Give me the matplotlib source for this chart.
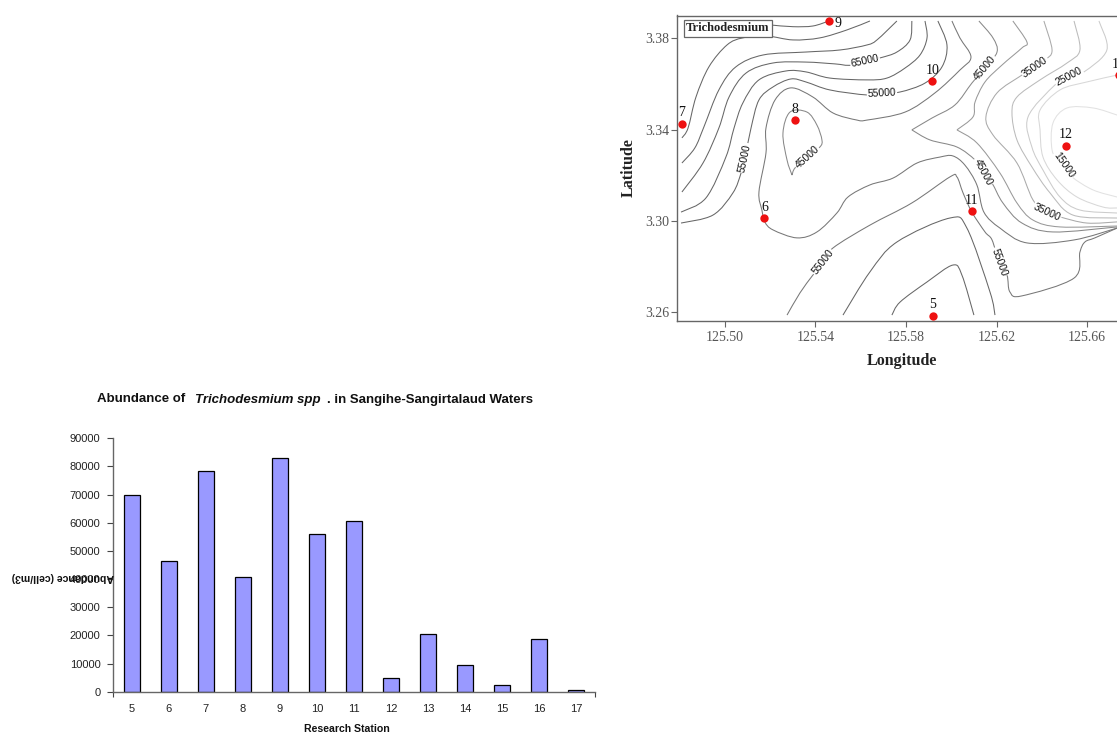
from matplotlib import pyplot as plt
from matplotlib.path import Path
from matplotlib.patches import PathPatch
import numpy as np

stations = ["5", "6", "7", "8", "9", "10", "11", "12", "13", "14", "15", "16", "17"]
abundance = [69750, 46540, 78280, 40620, 83130, 55900, 60750, 4970, 20370, 9470, 2490, 18830, 590]

# sampling stations on the map
st_names = ["5", "6", "7", "8", "9", "10", "11", "12", "13"]
st_lon = [125.5919, 125.5175, 125.4810, 125.5310, 125.5461, 125.5916, 125.6091, 125.6506, 125.6740]
st_lat = [3.2586, 3.3011, 3.3425, 3.3442, 3.3876, 3.3613, 3.3043, 3.3329, 3.3639]

# contour lines
lon_80 = [125.5208, 125.5301, 125.5389, 125.5460]
lat_80 = [3.3858, 3.3851, 3.3854, 3.3876]
lon_75 = [125.4811, 125.4838, 125.4873, 125.4930, 125.5010, 125.5080, 125.5186, 125.5301, 125.5420, 125.5540, 125.5641]
lat_75 = [3.3364, 3.3407, 3.3543, 3.3675, 3.3771, 3.3802, 3.3810, 3.3793, 3.3802, 3.3837, 3.3876]
lon_70 = [125.4811, 125.4868, 125.4908, 125.4974, 125.5049, 125.5169, 125.5358, 125.5509, 125.5628, 125.5672, 125.5760]
lat_70 = [3.3254, 3.3320, 3.3412, 3.3574, 3.3675, 3.3727, 3.3740, 3.3749, 3.3771, 3.3793, 3.3876]
lon_65 = [125.4811, 125.4904, 125.4974, 125.5019, 125.5094, 125.5213, 125.5358, 125.5487, 125.5562, 125.5685, 125.5760, 125.5818, 125.5826]
lat_65 = [3.3127, 3.3254, 3.3407, 3.3543, 3.3648, 3.3692, 3.3696, 3.3688, 3.3683, 3.3714, 3.3740, 3.3793, 3.3876]
lon_60 = [125.4807, 125.4917, 125.5005, 125.5041, 125.5080, 125.5151, 125.5270, 125.5358, 125.5464, 125.5628, 125.5716, 125.5796, 125.5862, 125.5893, 125.5884]
lat_60 = [3.3039, 3.3101, 3.3280, 3.3407, 3.3517, 3.3618, 3.3657, 3.3653, 3.3626, 3.3618, 3.3626, 3.3670, 3.3727, 3.3802, 3.3876]
lon_55 = [125.4807, 125.4948, 125.5036, 125.5072, 125.5089, 125.5116, 125.5151, 125.5213, 125.5292, 125.5358, 125.5464, 125.5628, 125.5694, 125.5774, 125.5884, 125.5959, 125.5981, 125.5941]
lat_55 = [3.2991, 3.3026, 3.3123, 3.3210, 3.3276, 3.3407, 3.3530, 3.3587, 3.3622, 3.3609, 3.3574, 3.3552, 3.3561, 3.3565, 3.3604, 3.3675, 3.3771, 3.3876]
lon_50 = [125.6003, 125.6038, 125.6087, 125.6038, 125.5928, 125.5796, 125.5628, 125.5584, 125.5478, 125.5389, 125.5292, 125.5222, 125.5182, 125.5182, 125.5151, 125.5164, 125.5177, 125.5213, 125.5319, 125.5407, 125.5495, 125.5544, 125.5641, 125.5743, 125.5849, 125.5950, 125.6007, 125.6060, 125.6113, 125.6144, 125.6215, 125.6334, 125.6542, 125.6732]
lat_50 = [3.3876, 3.3802, 3.3718, 3.3661, 3.3561, 3.3477, 3.3442, 3.3442, 3.3473, 3.3543, 3.3583, 3.3530, 3.3407, 3.3298, 3.3127, 3.3048, 3.2996, 3.2961, 3.2926, 3.2952, 3.3035, 3.3105, 3.3158, 3.3188, 3.3254, 3.3280, 3.3285, 3.3245, 3.3158, 3.3039, 3.2969, 3.2904, 3.2917, 3.2969]
lon_45_loop = [125.5297, 125.5275, 125.5257, 125.5288, 125.5363, 125.5407, 125.5429, 125.5420, 125.5363, 125.5310, 125.5297]
lat_45_loop = [3.3201, 3.3267, 3.3385, 3.3477, 3.3477, 3.3420, 3.3355, 3.3324, 3.3280, 3.3232, 3.3201]
lon_45_a = [125.6122, 125.6184, 125.6202, 125.6149, 125.6091, 125.6016, 125.5915, 125.5826]
lat_45_a = [3.3876, 3.3802, 3.3740, 3.3670, 3.3604, 3.3508, 3.3451, 3.3399]
lon_45_b = [125.5826, 125.5906, 125.6025, 125.6105, 125.6140, 125.6180, 125.6228, 125.6312, 125.6449, 125.6732]
lat_45_b = [3.3399, 3.3355, 3.3324, 3.3267, 3.3215, 3.3166, 3.3079, 3.2991, 3.2952, 3.2974]
lon_40_a = [125.6272, 125.6334, 125.6312, 125.6224, 125.6149, 125.6105, 125.6096, 125.6025]
lat_40_a = [3.3876, 3.3784, 3.3758, 3.3683, 3.3609, 3.3521, 3.3456, 3.3399]
lon_40_b = [125.6025, 125.6113, 125.6215, 125.6290, 125.6361, 125.6480, 125.6732]
lat_40_b = [3.3399, 3.3342, 3.3210, 3.3079, 3.3004, 3.2974, 3.2978]
lon_35 = [125.6409, 125.6445, 125.6414, 125.6370, 125.6312, 125.6202, 125.6153, 125.6184, 125.6290, 125.6361, 125.6423, 125.6480, 125.6599, 125.6732]
lat_35 = [3.3876, 3.3749, 3.3705, 3.3675, 3.3639, 3.3561, 3.3456, 3.3377, 3.3254, 3.3092, 3.3039, 3.3018, 3.2991, 3.2996]
lon_30 = [125.6542, 125.6568, 125.6511, 125.6392, 125.6290, 125.6268, 125.6290, 125.6356, 125.6436, 125.6537, 125.6732]
lat_30 = [3.3876, 3.3749, 3.3692, 3.3618, 3.3543, 3.3473, 3.3355, 3.3237, 3.3123, 3.3026, 3.3013]
lon_25 = [125.6652, 125.6687, 125.6586, 125.6520, 125.6458, 125.6339, 125.6356, 125.6405, 125.6480, 125.6568, 125.6732]
lat_25 = [3.3876, 3.3749, 3.3653, 3.3631, 3.3596, 3.3456, 3.3324, 3.3223, 3.3105, 3.3048, 3.3035]
lon_20 = [125.6732, 125.6599, 125.6480, 125.6392, 125.6392, 125.6405, 125.6467, 125.6555, 125.6670, 125.6732]
lat_20 = [3.3639, 3.3609, 3.3574, 3.3486, 3.3399, 3.3280, 3.3180, 3.3105, 3.3061, 3.3057]
lon_15 = [125.6732, 125.6626, 125.6511, 125.6449, 125.6445, 125.6480, 125.6533, 125.6626, 125.6732]
lat_15 = [3.3464, 3.3495, 3.3495, 3.3429, 3.3311, 3.3254, 3.3193, 3.3136, 3.3105]
lon_55_low = [125.5275, 125.5332, 125.5389, 125.5433, 125.5478, 125.5641, 125.5826, 125.5994, 125.6025, 125.6052, 125.6091, 125.6149, 125.6180, 125.6211, 125.6246, 125.6259, 125.6312, 125.6542, 125.6568, 125.6590, 125.6634, 125.6732]
lat_55_low = [3.2588, 3.2685, 3.2763, 3.2820, 3.2882, 3.2982, 3.3079, 3.3193, 3.3193, 3.3123, 3.3039, 3.2952, 3.2917, 3.2820, 3.2763, 3.2689, 3.2672, 3.2750, 3.2864, 3.2908, 3.2926, 3.2969]
lon_60_low = [125.5522, 125.5641, 125.5760, 125.5994, 125.6069, 125.6171, 125.6193]
lat_60_low = [3.2588, 3.2777, 3.2908, 3.3013, 3.2969, 3.2689, 3.2588]
lon_65_low = [125.5738, 125.5774, 125.5893, 125.6007, 125.6047, 125.6100]
lat_65_low = [3.2588, 3.2645, 3.2733, 3.2807, 3.2763, 3.2588]

label_text = ["65000", "55000", "55000", "45000", "45000", "35000", "25000", "15000", "45000", "35000", "55000", "55000"]
label_lon = [125.5619, 125.5694, 125.5089, 125.5363, 125.6149, 125.6370, 125.6520, 125.6498, 125.6140, 125.6423, 125.5433, 125.6211]
label_lat = [3.3701, 3.3561, 3.3276, 3.3280, 3.3670, 3.3675, 3.3631, 3.3245, 3.3215, 3.3039, 3.2820, 3.2820]
label_rot = [12, 3, 78, 42, 50, 35, 28, -55, -62, -25, 52, -70]


def smooth_path(x, y):
    # catmull-rom through the read points, as bezier segments
    p = np.column_stack([x, y])
    verts = [p[0]]
    codes = [Path.MOVETO]
    for i in range(len(p) - 1):
        p0 = p[max(i - 1, 0)]
        p3 = p[min(i + 2, len(p) - 1)]
        verts += [p[i] + (p[i + 1] - p0) / 6, p[i + 1] - (p3 - p[i]) / 6, p[i + 1]]
        codes += [Path.CURVE4] * 3
    return Path(verts, codes)


W, H = 1117, 733
fig = plt.figure(figsize=(W / 100, H / 100), dpi=100)


def box(left, top, right, bottom):
    return [left / W, 1 - bottom / H, (right - left) / W, (bottom - top) / H]


# map
serif = "Liberation Serif"
sans = "Liberation Sans"
ax = fig.add_axes(box(676.5, 15.5, 1125, 321))
ax.set_xlim(125.4787, 125.6767)
ax.set_ylim(3.2562, 3.3900)

contours = [
    (lon_80, lat_80, "#666666"), (lon_75, lat_75, "#666666"), (lon_70, lat_70, "#666666"),
    (lon_65, lat_65, "#666666"), (lon_60, lat_60, "#666666"), (lon_55, lat_55, "#666666"),
    (lon_50, lat_50, "#777777"), (lon_45_loop, lat_45_loop, "#888888"), (lon_45_a, lat_45_a, "#888888"),
    (lon_45_b, lat_45_b, "#888888"), (lon_40_a, lat_40_a, "#999999"), (lon_40_b, lat_40_b, "#999999"),
    (lon_35, lat_35, "#aaaaaa"), (lon_30, lat_30, "#bbbbbb"), (lon_25, lat_25, "#cccccc"),
    (lon_20, lat_20, "#d8d8d8"), (lon_15, lat_15, "#e2e2e2"), (lon_55_low, lat_55_low, "#777777"),
    (lon_60_low, lat_60_low, "#666666"), (lon_65_low, lat_65_low, "#666666"),
]
for cx, cy, col in contours:
    ax.add_patch(PathPatch(smooth_path(cx, cy), fc="none", ec=col, lw=0.75))

for t, x, y, r in zip(label_text, label_lon, label_lat, label_rot):
    ax.text(x, y, t, rotation=r, rotation_mode="anchor", ha="center", va="center", family=sans,
            fontsize=7.5, color="#111111", zorder=3,
            bbox=dict(fc="white", ec="none", pad=0.6))

ax.scatter(st_lon, st_lat, s=36, color="#ee1111", linewidths=0, zorder=4, clip_on=False)
for n, x, y in zip(st_names, st_lon, st_lat):
    if n == "9":
        ax.annotate(n, (x, y), xytext=(9, -3), textcoords="offset pixels", ha="center", va="center",
                    family=serif, fontsize=10, color="#111111", zorder=5)
    else:
        ax.annotate(n, (x, y), xytext=(0, 11), textcoords="offset pixels", ha="center", va="center",
                    family=serif, fontsize=10, color="#111111", zorder=5)

ax.text(0.0212, 0.9575, "Trichodesmium", transform=ax.transAxes, family=serif, fontsize=9, fontweight="bold",
        color="#222222", va="center", ha="left", zorder=5,
        bbox=dict(fc="white", ec="#666666", lw=0.9, pad=1.6))

ax.set_xticks([125.50, 125.54, 125.58, 125.62, 125.66])
ax.set_xticklabels(["125.50", "125.54", "125.58", "125.62", "125.66"])
ax.set_yticks([3.26, 3.30, 3.34, 3.38])
ax.set_yticklabels(["3.26", "3.30", "3.34", "3.38"])
ax.tick_params(length=4, width=0.8, color="#666666", labelcolor="#555555", labelsize=10)
ax.tick_params(axis="x", pad=3)
ax.tick_params(axis="y", pad=1)
for lab in ax.get_xticklabels() + ax.get_yticklabels():
    lab.set_family(serif)
for s in ax.spines.values():
    s.set_color("#666666")
    s.set_linewidth(1.0)
ax.spines["right"].set_visible(False)

fig.text(901.5 / W, 1 - 361 / H, "Longitude", family=serif, fontweight="bold", fontsize=11.5,
         color="#222222", ha="center", va="center")
fig.text(629 / W, 1 - 168 / H, "Latitude", family=serif, fontweight="bold", fontsize=11.5,
         color="#222222", ha="center", va="center", rotation=90)

# bars
ax2 = fig.add_axes(box(113, 438.3, 595, 691.7))
pos = np.arange(len(stations))
ax2.bar(pos, abundance, width=0.43, color="#9999ff", edgecolor="black", linewidth=0.9)
ax2.set_xlim(-0.5, len(stations) - 0.5)
ax2.set_ylim(0, 90000)
ax2.set_yticks(np.arange(0, 90001, 10000))
ax2.set_xticks(pos)
ax2.set_xticklabels(stations)
ax2.set_xticks(pos[:-1] + 0.5, minor=True)
ax2.set_xticks([-0.5, len(stations) - 0.5], minor=True)
ax2.tick_params(axis="x", which="major", length=0, pad=9, labelsize=8, labelcolor="#222222")
ax2.tick_params(axis="x", which="minor", length=3.5, width=0.8, color="#444444")
ax2.tick_params(axis="y", length=4, width=0.8, color="#444444", pad=5, labelsize=8, labelcolor="#222222")
for lab in ax2.get_xticklabels() + ax2.get_yticklabels():
    lab.set_family(sans)
ax2.spines["top"].set_visible(False)
ax2.spines["right"].set_visible(False)
for s in ["left", "bottom"]:
    ax2.spines[s].set_color("#666666")
    ax2.spines[s].set_linewidth(1.0)

fig.text(97.5 / W, 1 - 399.5 / H, "Abundance of", family=sans, fontweight="bold", fontsize=9.5, color="#111111", va="center")
fig.text(195 / W, 1 - 399.5 / H, "Trichodesmium spp", family=sans, fontweight="bold", style="italic", fontsize=9.5, color="#111111", va="center")
fig.text(327 / W, 1 - 399.5 / H, ". in Sangihe-Sangirtalaud Waters", family=sans, fontweight="bold", fontsize=9.5, color="#111111", va="center")
fig.text(347 / W, 1 - 728.5 / H, "Research Station", family=sans, fontweight="bold", fontsize=7.6, color="#111111", ha="center", va="center")
fig.text(62.5 / W, 1 - 576.5 / H, "Abundance (cell/m3)", family=sans, fontweight="bold", fontsize=7.6, color="#111111", ha="center", va="center", rotation=180)

fig.savefig("out.png", dpi=100)
